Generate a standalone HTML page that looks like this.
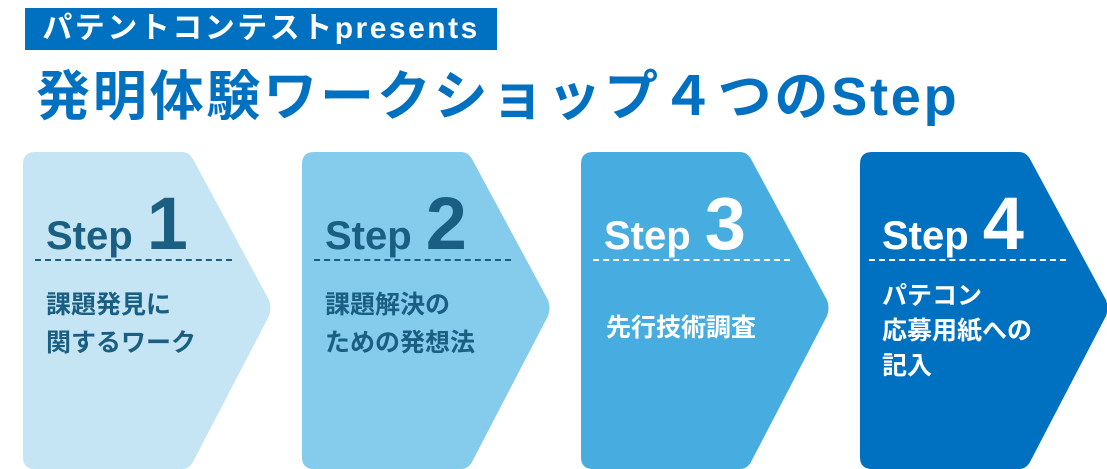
<!DOCTYPE html>
<html><head><meta charset="utf-8"><style>
body{margin:0;width:1107px;height:469px;background:#fff;position:relative;overflow:hidden;font-family:"Liberation Sans","Noto Sans CJK JP",sans-serif;}
.hdr{position:absolute;left:25px;top:8px;width:472px;height:42px;background:#0070c0;color:#fff;font-weight:bold;font-size:30px;line-height:42px;text-align:center;letter-spacing:2.5px;white-space:nowrap;}
.ttl{position:absolute;left:36px;top:62px;color:#0070c0;font-weight:bold;font-size:54px;line-height:70px;white-space:nowrap;letter-spacing:2.8px;}
.st{position:absolute;top:181px;font-weight:bold;white-space:nowrap;}
.st .a{font-size:40px;}
.st .n{font-size:74px;margin-left:14px;}
.dl{position:absolute;top:259px;width:197px;border-top:2px dashed;}
.tx{position:absolute;top:286px;font-weight:bold;font-size:25px;line-height:38px;white-space:nowrap;}
</style></head><body>
<div class="hdr">パテントコンテストpresents</div>
<div class="ttl">発明体験ワークショップ４つのStep</div>
<svg width="1107" height="469" style="position:absolute;left:0;top:0">
<g>
<path d="M35,152 H182 Q189,152 193,159 L269,300 Q272,308 269,316 L193,462 Q189,469 182,469 H35 Q23,469 23,457 V164 Q23,152 35,152Z" fill="#c5e5f5"/>
<path d="M314,152 H461 Q468,152 472,159 L548,300 Q551,308 548,316 L472,462 Q468,469 461,469 H314 Q302,469 302,457 V164 Q302,152 314,152Z" fill="#84cbec"/>
<path d="M593,152 H740 Q747,152 751,159 L827,300 Q830,308 827,316 L751,462 Q747,469 740,469 H593 Q581,469 581,457 V164 Q581,152 593,152Z" fill="#47ade0"/>
<path d="M872,152 H1019 Q1026,152 1030,159 L1106,300 Q1109,308 1106,316 L1030,462 Q1026,469 1019,469 H872 Q860,469 860,457 V164 Q860,152 872,152Z" fill="#0070c0"/>
</g></svg>
<div class="st" style="left:46px;color:#1a5f82"><span class="a">Step</span><span class="n">1</span></div>
<div class="dl" style="left:35px;border-color:#1a5f82"></div>
<div class="tx" style="left:46px;color:#1a5f82">課題発見に<br>関するワーク</div>
<div class="st" style="left:325px;color:#1a5f82"><span class="a">Step</span><span class="n">2</span></div>
<div class="dl" style="left:314px;border-color:#1a5f82"></div>
<div class="tx" style="left:325px;color:#1a5f82">課題解決の<br>ための発想法</div>
<div class="st" style="left:604px;color:#fff"><span class="a">Step</span><span class="n">3</span></div>
<div class="dl" style="left:593px;border-color:#fff"></div>
<div class="tx" style="left:606px;top:309px;color:#fff">先行技術調査</div>
<div class="st" style="left:882px;color:#fff"><span class="a">Step</span><span class="n">4</span></div>
<div class="dl" style="left:869px;border-color:#fff"></div>
<div class="tx" style="left:882px;top:279px;line-height:35px;color:#fff">パテコン<br>応募用紙への<br>記入</div>
</body></html>
